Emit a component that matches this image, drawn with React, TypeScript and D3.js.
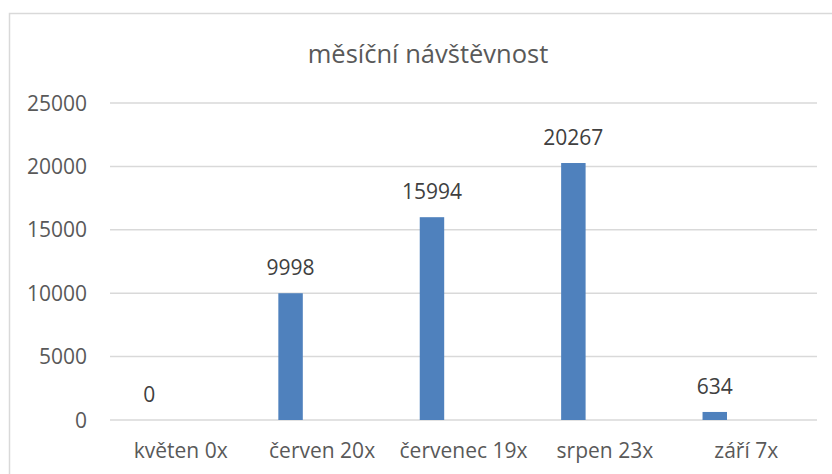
import React from 'react';
import * as d3 from 'd3';

// data
const categories = ['květen 0x', 'červen 20x', 'červenec 19x', 'srpen 23x', 'září 7x'];
const visits = [0, 9998, 15994, 20267, 634];
const yTicks = [0, 5000, 10000, 15000, 20000, 25000];
const title = 'měsíční návštěvnost';

const W = 832;
const H = 474;
const FONT = '"Open Sans", sans-serif';

export default function App() {
    // plot area
    const margin = { top: 103, right: 15, bottom: 54, left: 110 };
    const plotW = W - margin.left - margin.right;
    const plotH = H - margin.top - margin.bottom;

    const x = d3.scaleBand().domain(categories).range([0, plotW]).padding(0);
    const y = d3.scaleLinear().domain([0, 25000]).range([plotH, 0]);

    const bw = x.bandwidth();
    // the bar sits left of the category centre (excel cluster slot)
    const barW = bw * 0.173;
    const barCenter = (c: string) => (x(c) as number) + bw * 0.5 - bw * 0.223;

    return (
        <svg
            width={W}
            height={H}
            style={{ position: 'absolute', left: 0, top: 0, background: '#fff' }}
            fontFamily={FONT}
        >
            {/* chart frame, runs off the right/bottom edge */}
            <rect x={9.5} y={13.5} width={W + 20} height={H + 20} fill="#fff" stroke="#d9d9d9" strokeWidth={1.5} />

            <text x={428} y={63} textAnchor="middle" fontSize={25.5} fill="#595959">
                {title}
            </text>

            <g transform={`translate(${margin.left},${margin.top})`}>
                {yTicks.map((t) => (
                    <g key={t}>
                        <line x1={0} x2={plotW} y1={y(t)} y2={y(t)} stroke="#d9d9d9" strokeWidth={1.5} />
                        <text x={-23} y={y(t)} dy="0.36em" textAnchor="end" fontSize={21} fill="#595959">
                            {t}
                        </text>
                    </g>
                ))}

                {categories.map((c, i) => (
                    <g key={c}>
                        <rect
                            x={barCenter(c) - barW / 2}
                            y={y(visits[i])}
                            width={barW}
                            height={plotH - y(visits[i])}
                            fill="#4f81bd"
                        />
                        <text x={barCenter(c)} y={y(visits[i]) - 18} textAnchor="middle" fontSize={21} fill="#404040">
                            {visits[i]}
                        </text>
                        <text x={(x(c) as number) + bw / 2} y={plotH + 38} textAnchor="middle" fontSize={21} fill="#595959">
                            {c}
                        </text>
                    </g>
                ))}
            </g>
        </svg>
    );
}
